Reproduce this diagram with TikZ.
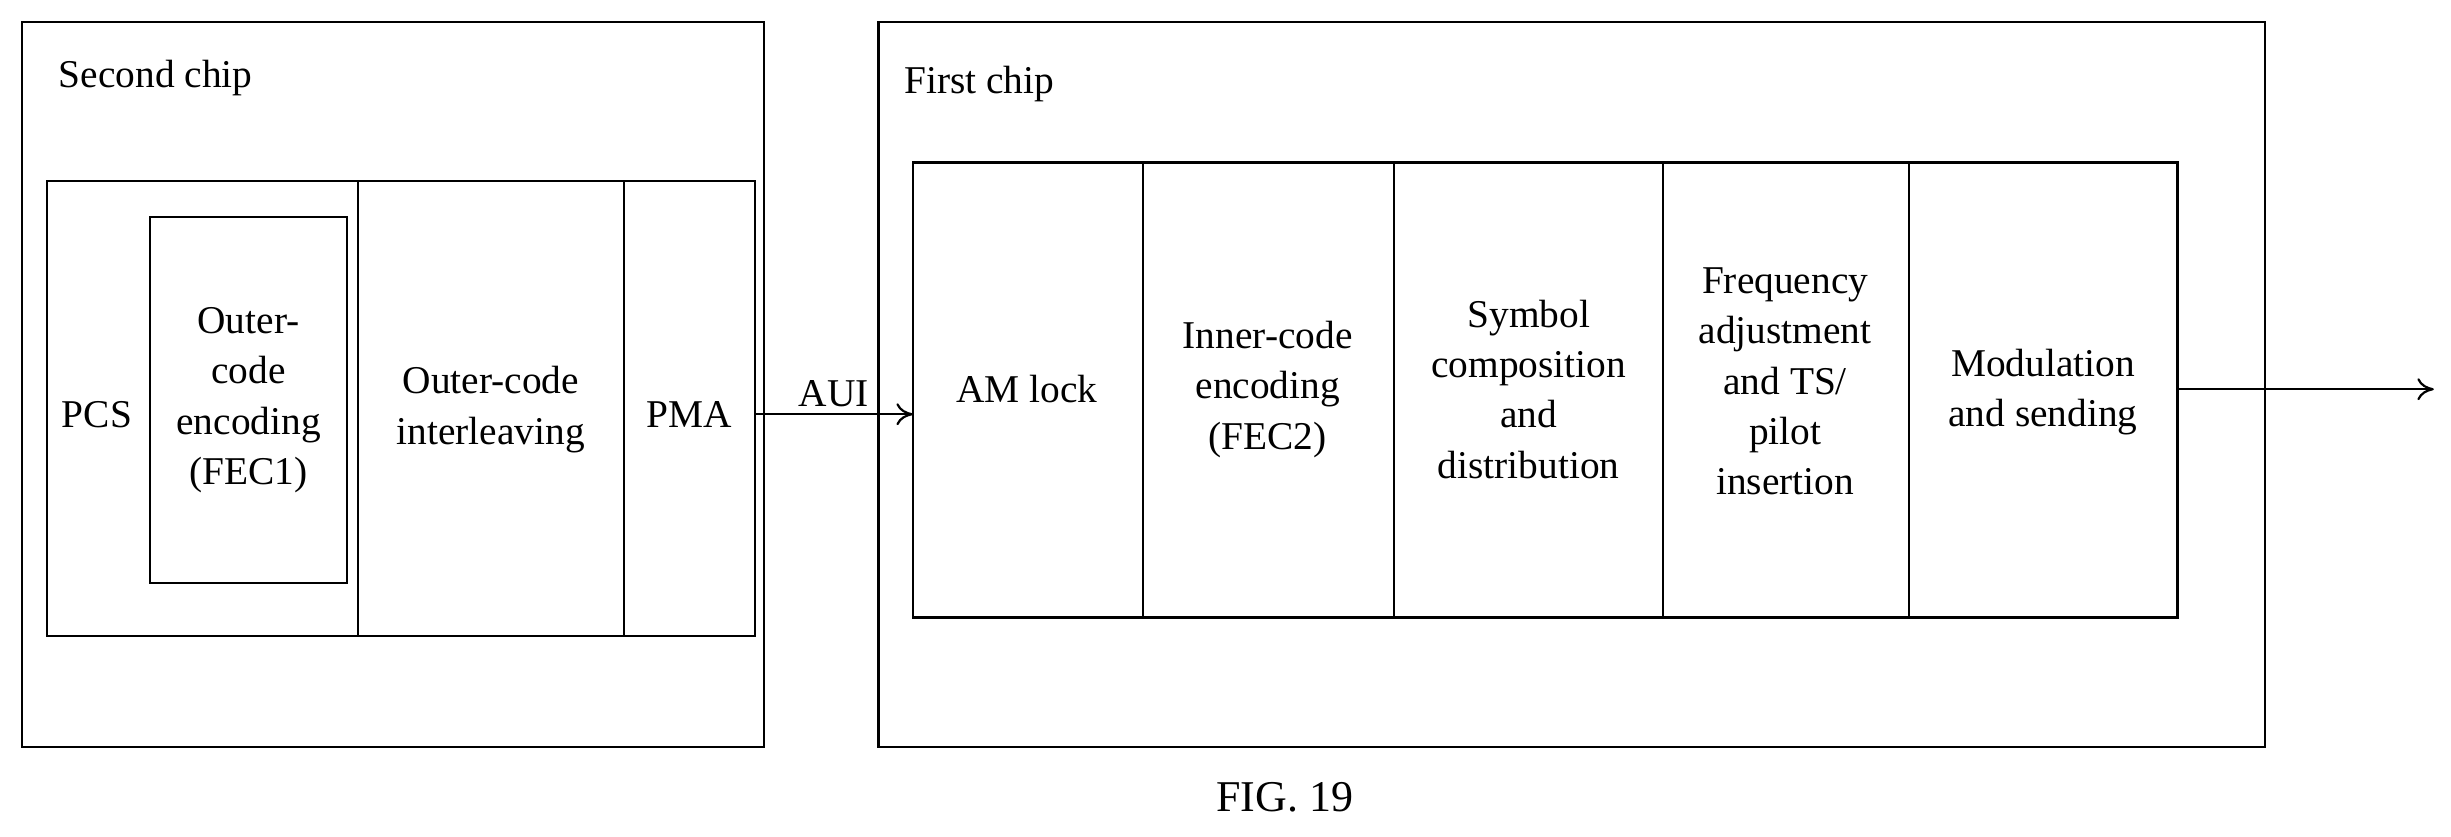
\documentclass[tikz,border=0pt]{standalone}
\usepackage{fontspec}
\usetikzlibrary{arrows.meta}
\setmainfont{Liberation Serif}
\begin{document}
\begin{tikzpicture}[x=0.03cm,y=-0.03cm,line width=1.2pt,
  lbl/.style={align=center,font=\fontsize{21.5}{27.5}\selectfont},
  arr/.style={-{To[length=9pt,width=12pt]}}]
\useasboundingbox (0,0) rectangle (1568,535);
\draw (14,14) rectangle (489,478);
\node[lbl,anchor=west] (sct) at (33,50) {Second chip};
\draw (30,116) rectangle (483,407);
\draw (229,116) -- (229,407);
\draw (399,116) -- (399,407);
\draw (96,139) rectangle (222,373);
\node[lbl] (pcs) at (62,265) {PCS};
\node[lbl] (fec1) at (159,256) {Outer-\\code\\encoding\\(FEC1)};
\node[lbl] (oci) at (314,262) {Outer-code\\interleaving};
\node[lbl] (pma) at (441,265) {PMA};
\coordinate (pmar) at (483,265);
\draw (562,14) rectangle (1449,478);
\node[lbl,anchor=west] (fct) at (574,54) {First chip};
\draw (584,104) rectangle (1393,395);
\foreach \x in {731,892,1064,1221} \draw (\x,104) -- (\x,395);
\coordinate (aml) at (584,265);
\node[lbl] (am) at (657,249) {AM lock};
\node[lbl] (fec2) at (811,249) {Inner-code\\encoding\\(FEC2)};
\node[lbl] (sym) at (978,249) {Symbol\\composition\\and\\distribution};
\node[lbl] (freq) at (1142,244) {Frequency\\adjustment\\and TS/\\pilot\\insertion};
\node[lbl] (mod) at (1307,251) {Modulation\\and sending};
\draw[arr] (pmar) -- node[lbl,above] {AUI} (aml);
\coordinate (outl) at (1393,249);
\coordinate (outr) at (1557,249);
\draw[arr] (outl) -- (outr);
\node[lbl,font=\fontsize{24}{28}\selectfont] (fig) at (822,510) {FIG. 19};
\end{tikzpicture}
\end{document}
